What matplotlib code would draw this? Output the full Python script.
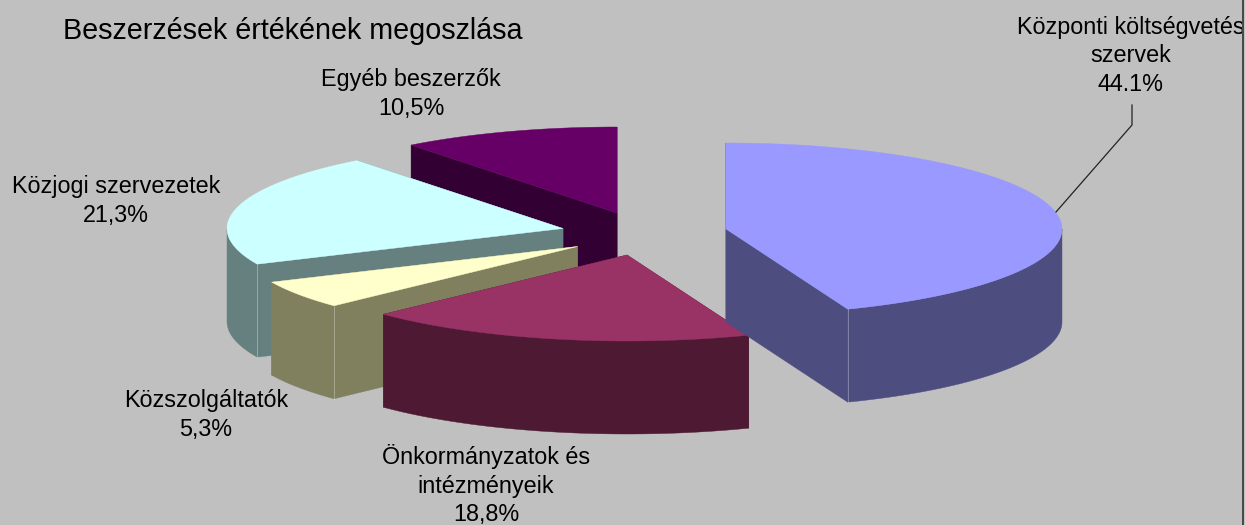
import numpy as np
import matplotlib
matplotlib.use("Agg")
import matplotlib.pyplot as plt
from matplotlib.patches import Polygon, Rectangle

plt.rcParams['font.family'] = ['Liberation Sans', 'DejaVu Sans']

title = "Beszerzések értékének megoszlása"
labels = ["Központi költségvetés\nszervek\n44.1%",
          "Önkormányzatok és\nintézményeik\n18,8%",
          "Közszolgáltatók\n5,3%",
          "Közjogi szervezetek\n21,3%",
          "Egyéb beszerzők\n10,5%"]
values = [44.1, 18.8, 5.3, 21.3, 10.5]
top_colors = ['#9999FF', '#993366', '#FFFFCC', '#CCFFFF', '#660066']
side_colors = ['#4D4D80', '#4D1933', '#80805F', '#668080', '#330033']

# apex of each exploded slice, in pixels
centers = [(726, 229), (627, 255), (577.5, 246.5), (563, 228.5), (617, 213)]
label_pos = [(1131, 56), (486, 485), (206, 415), (116, 201), (411, 94)]
rx, ry, depth = 336, 86, 93
draw_order = [4, 3, 2, 1, 0]


def rim(center, deg):
    t = np.radians(deg)
    return center[0] + rx * np.sin(t), center[1] - ry * np.cos(t)


fig = plt.figure(figsize=(12.45, 5.25), dpi=100, facecolor='#C0C0C0')
ax = fig.add_axes([0, 0, 1, 1])
ax.set_xlim(0, 1245)
ax.set_ylim(525, 0)
ax.axis('off')

ends = np.cumsum(values) / sum(values) * 360
starts = np.concatenate([[0], ends[:-1]])

for i in draw_order:
    c = centers[i]
    a0, a1 = starts[i], ends[i]
    side = side_colors[i]

    # cut faces, the one further back first
    for a in sorted([a0, a1], key=lambda d: rim(c, d)[1]):
        x, y = rim(c, a)
        face = [c, (x, y), (x, y + depth), (c[0], c[1] + depth)]
        ax.add_patch(Polygon(face, fc=side, ec=side, lw=0.3))

    # outer wall, front half only
    lo, hi = max(a0, 90), min(a1, 270)
    if lo < hi:
        angs = np.linspace(lo, hi, 120)
        upper = [rim(c, a) for a in angs]
        lower = [(x, y + depth) for x, y in upper][::-1]
        ax.add_patch(Polygon(upper + lower, fc=side, ec=side, lw=0.3))
        # faint seam where a visible cut face meets the wall
        for a, seen in ((a0, a0 > 180), (a1, a1 < 180)):
            if seen and 90 < a < 270:
                x, y = rim(c, a)
                ax.plot([x, x], [y, y + depth], color='#FFFFFF', alpha=0.3, lw=0.7)

    angs = np.linspace(a0, a1, 200)
    pts = [c] + [rim(c, a) for a in angs]
    ax.add_patch(Polygon(pts, fc=top_colors[i], ec=top_colors[i], lw=0.3))

ax.plot([1056, 1132, 1132], [212, 125, 105], color='#222222', lw=0.9)
ax.plot([1242.5, 1242.5], [0, 525], color='#333333', lw=1.2)

ax.text(63, 31, title, fontsize=20.7, ha='left', va='center', color='black')
clip = Rectangle((0, 0), 1241.5, 525, transform=ax.transData)
for lab, (x, y) in zip(labels, label_pos):
    t = ax.text(x, y, lab, fontsize=16.8, ha='center', va='center', linespacing=1.31,
                multialignment='center', color='black', clip_on=True)
    t.set_clip_path(clip)

fig.savefig('out.png', dpi=100, facecolor=fig.get_facecolor())
